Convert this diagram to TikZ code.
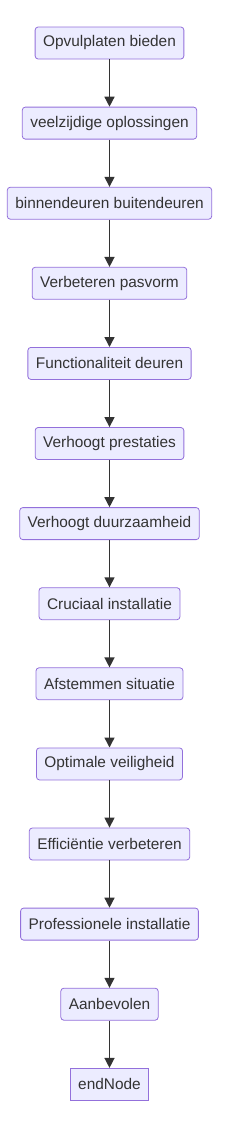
\documentclass[tikz,border=0pt]{standalone}
\usepackage{fontspec}
\setmainfont{Liberation Sans}
\usetikzlibrary{positioning,arrows.meta}
\definecolor{boxfill}{HTML}{ECECFF}
\definecolor{boxline}{HTML}{9370DB}
\definecolor{ink}{HTML}{333333}

\begin{document}
\begin{tikzpicture}[
    font=\fontsize{15.4pt}{18pt}\selectfont,
    node distance=47.3pt,
    stepbox/.style={draw=boxline, fill=boxfill, rounded corners=3pt, text=ink,
                    minimum height=32pt, inner xsep=8pt, line width=0.8pt},
    endbox/.style={stepbox, rounded corners=0pt},
    flow/.style={-{Triangle[length=10pt, width=10pt]}, ink, line width=1.4pt},
  ]
  \useasboundingbox (0,0) rectangle (227pt,-1128pt);
  % --- chain of steps ---
  \node[stepbox] (opvul) at (109.5pt,-43pt) {Opvulplaten bieden};
  \node[stepbox, below=of opvul] (veel) {veelzijdige oplossingen};
  \node[stepbox, below=of veel] (deuren) {binnendeuren buitendeuren};
  \node[stepbox, below=of deuren] (pasvorm) {Verbeteren pasvorm};
  \node[stepbox, below=of pasvorm] (functie) {Functionaliteit deuren};
  \node[stepbox, below=of functie] (prest) {Verhoogt prestaties};
  \node[stepbox, below=of prest] (duur) {Verhoogt duurzaamheid};
  \node[stepbox, below=of duur] (cruciaal) {Cruciaal installatie};
  \node[stepbox, below=of cruciaal] (afstem) {Afstemmen situatie};
  \node[stepbox, below=of afstem] (veilig) {Optimale veiligheid};
  \node[stepbox, below=of veilig] (effic) {Efficiëntie verbeteren};
  \node[stepbox, below=of effic] (prof) {Professionele installatie};
  \node[stepbox, below=of prof] (aanbev) {Aanbevolen};
  \node[endbox, below=of aanbev] (endnode) {endNode};

  % --- connectors ---
  \draw[flow] (opvul) -- (veel);
  \draw[flow] (veel) -- (deuren);
  \draw[flow] (deuren) -- (pasvorm);
  \draw[flow] (pasvorm) -- (functie);
  \draw[flow] (functie) -- (prest);
  \draw[flow] (prest) -- (duur);
  \draw[flow] (duur) -- (cruciaal);
  \draw[flow] (cruciaal) -- (afstem);
  \draw[flow] (afstem) -- (veilig);
  \draw[flow] (veilig) -- (effic);
  \draw[flow] (effic) -- (prof);
  \draw[flow] (prof) -- (aanbev);
  \draw[flow] (aanbev) -- (endnode);
\end{tikzpicture}
\end{document}
